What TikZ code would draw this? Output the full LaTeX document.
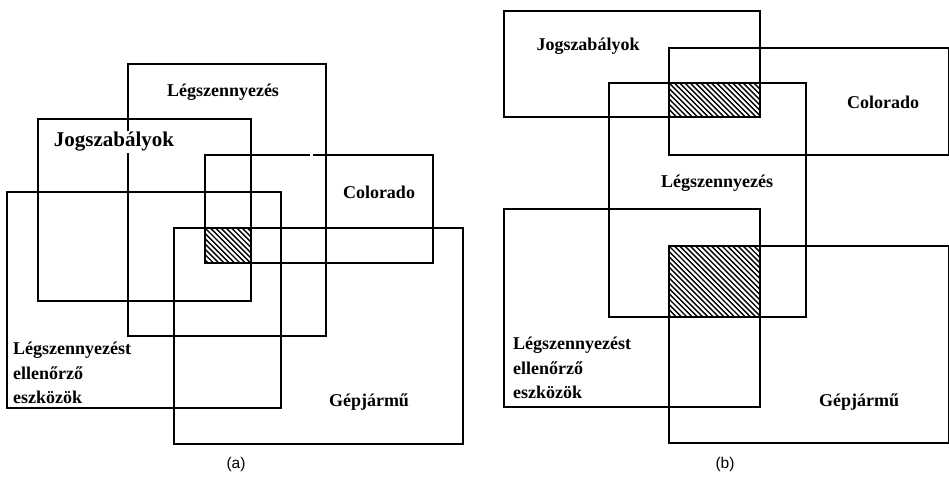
\documentclass[tikz,border=0pt]{standalone}
\usepackage{fontspec}
\setmainfont{Liberation Serif}
\newfontfamily\capfont{Liberation Sans}
\begin{document}
\begin{tikzpicture}[x=1pt,y=-1pt,
  setbox/.style={line width=2.8pt,line join=miter},
  lbl/.style={font=\bfseries\fontsize{18}{24.5}\selectfont,inner sep=1pt},
  biglbl/.style={font=\bfseries\fontsize{21}{24}\selectfont,inner sep=1pt,fill=white},
  panelcap/.style={font=\capfont\fontsize{15.5}{17}\selectfont,inner sep=0pt},
  hatchline/.style={line width=1.4pt}]
\useasboundingbox (0,0) rectangle (949,495);
\fill[white] (0,0) rectangle (949,495);
% ---------- panel (a) ----------
\draw[setbox] (128,64) rectangle (326,336);   % Légszennyezés
\draw[setbox] (38,119) rectangle (251,301);   % Jogszabályok
\draw[setbox] (205,155) rectangle (433,263);  % Colorado
\draw[setbox] (7,192) rectangle (281,408);    % ellenőrző eszközök
\draw[setbox] (174,228) rectangle (463,444);  % Gépjármű
\fill[white] (309.5,152) rectangle (313,158);
\begin{scope}
  \clip (205,228) rectangle (251,263);
  \foreach \i in {-12,...,12} {
    \draw[hatchline] ({205+\i*5.3},228) -- ({205+\i*5.3+40},268);
  }
\end{scope}
\draw[setbox] (205,228) rectangle (251,263);
\node[lbl] (aL) at (223,92) {Légszennyezés};
\node[biglbl] (aJ) at (114,142) {Jogszabályok};
\node[lbl] (aC) at (379,192) {Colorado};
\node[lbl,anchor=west,align=left] (aE) at (12,373) {Légszennyezést\\ellenőrző\\eszközök};
\node[lbl] (aG) at (369,402) {Gépjármű};
\node[panelcap] (aCap) at (236,464) {(a)};
% ---------- panel (b) ----------
\draw[setbox] (504,11) rectangle (760,117);    % Jogszabályok
\draw[setbox] (669,48) rectangle (949.8,155);  % Colorado
\draw[setbox] (609,83) rectangle (806,317);    % Légszennyezés
\draw[setbox] (504,209) rectangle (760,407);   % ellenőrző eszközök
\draw[setbox] (669,246) rectangle (949.8,443); % Gépjármű
\begin{scope}
  \clip (669,83) rectangle (760,117);
  \foreach \i in {-8,...,18} {
    \draw[hatchline] ({669+\i*5.3},83) -- ({669+\i*5.3+40},123);
  }
\end{scope}
\begin{scope}
  \clip (669,246) rectangle (760,317);
  \foreach \i in {-15,...,18} {
    \draw[hatchline] ({669+\i*5.3},246) -- ({669+\i*5.3+80},326);
  }
\end{scope}
\draw[setbox] (669,83) rectangle (760,117);
\draw[setbox] (669,246) rectangle (760,317);
\node[lbl] (bJ) at (588,46) {Jogszabályok};
\node[lbl] (bC) at (883,102) {Colorado};
\node[lbl] (bL) at (717,183) {Légszennyezés};
\node[lbl,anchor=west,align=left] (bE) at (512,368) {Légszennyezést\\ellenőrző\\eszközök};
\node[lbl] (bG) at (859,402) {Gépjármű};
\node[panelcap] (bCap) at (725,464) {(b)};
\end{tikzpicture}
\end{document}
